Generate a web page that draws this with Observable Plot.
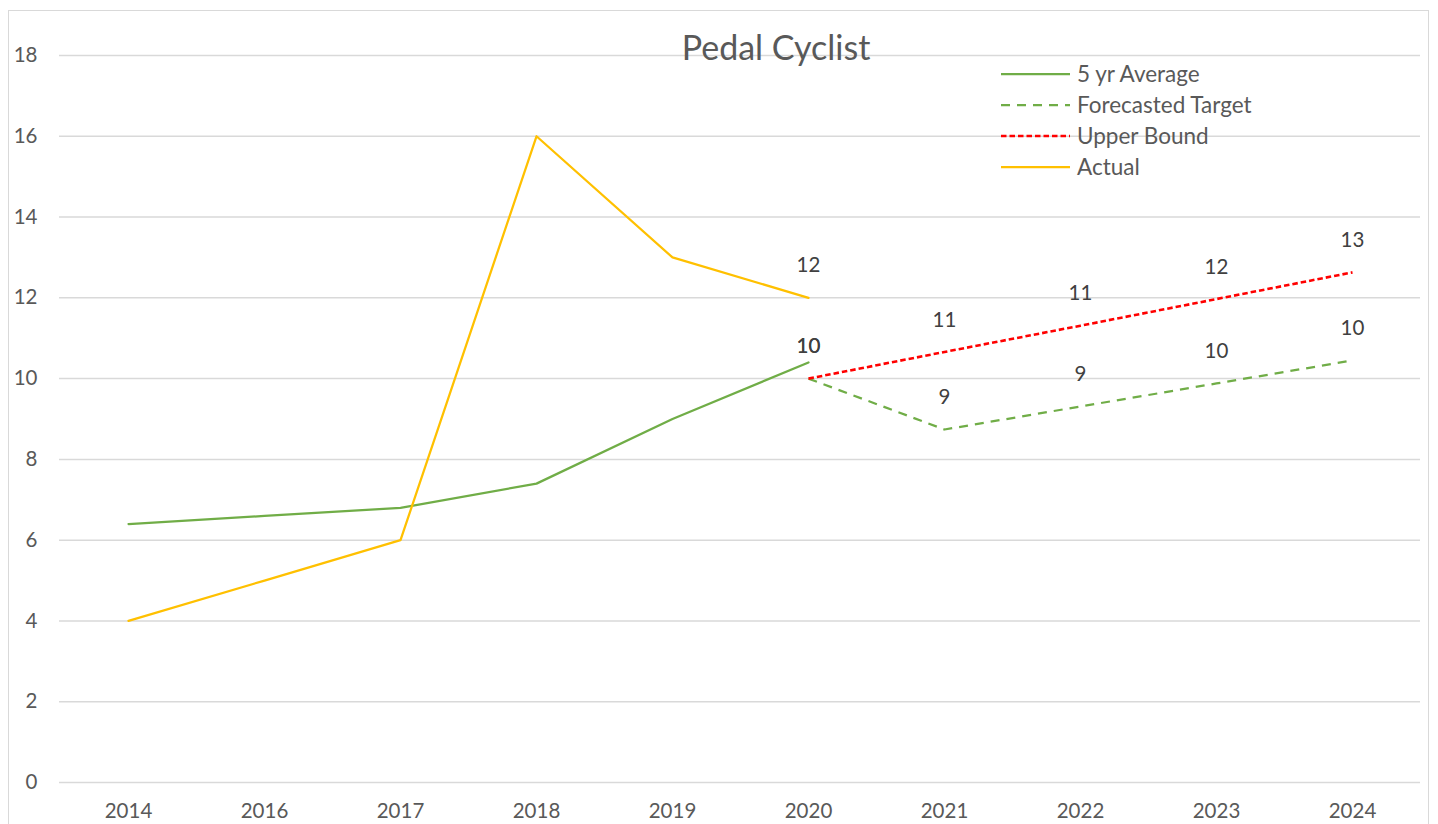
<!DOCTYPE html>
<html>
<head>
<meta charset="utf-8">
<script src="https://cdn.jsdelivr.net/npm/d3@7"></script>
<script src="https://cdn.jsdelivr.net/npm/@observablehq/plot@0.6"></script>
<style>
  html, body { margin: 0; padding: 0; background: #fff; overflow: hidden; }
  #wrap { position: relative; width: 1438px; height: 824px; font-family: Lato, "Open Sans", sans-serif; }
  #frame { position: absolute; left: 8px; top: 10px; width: 1421px; height: 830px; border: 1px solid #d9d9d9; box-sizing: border-box; pointer-events: none; }
  #title { position: absolute; left: 526px; width: 500px; top: 26px; text-align: center; font-size: 34px; color: #595959; }
  #legend { position: absolute; left: 1001px; top: 58px; font-size: 22.5px; color: #595959; }
  .item { display: flex; align-items: center; height: 31px; }
  .item svg { margin-right: 7px; }
</style>
</head>
<body>
<div id="wrap">
  <div id="chart"></div>
  <div id="frame"></div>
  <div id="title">Pedal Cyclist</div>
  <div id="legend"></div>
</div>
<script>
const years = ["2014","2016","2017","2018","2019","2020","2021","2022","2023","2024"];
const avgYears = ["2014","2016","2017","2018","2019","2020"];
const avgValues = [6.4, 6.6, 6.8, 7.4, 9.0, 10.4];
const actualValues = [4, 5, 6, 16, 13, 12];
const forecastYears = ["2020","2021","2022","2023","2024"];
const targetValues = [10, 8.74, 9.31, 9.88, 10.45];
const upperValues = [10, 10.66, 11.31, 11.97, 12.63];
const yTicks = [0, 2, 4, 6, 8, 10, 12, 14, 16, 18];

const series = [
  {name: "5 yr Average", color: "#70AD47", dash: null, width: 2.25},
  {name: "Forecasted Target", color: "#70AD47", dash: "9,7", width: 2.25},
  {name: "Upper Bound", color: "#FF0000", dash: "5.5,3", width: 2.6},
  {name: "Actual", color: "#FFC000", dash: null, width: 2.25}
];

const avg = avgYears.map((x, i) => ({x, y: avgValues[i]}));
const actual = avgYears.map((x, i) => ({x, y: actualValues[i]}));
const target = forecastYears.map((x, i) => ({x, y: targetValues[i]}));
const upper = forecastYears.map((x, i) => ({x, y: upperValues[i]}));
const actualLabels = actual.filter(d => d.x === "2020");

const font = "Lato, 'Open Sans', sans-serif";
const labelSize = 20.5;
const plot = Plot.plot({
  width: 1438,
  height: 824,
  marginLeft: 59,
  marginRight: 18,
  marginTop: 55,
  marginBottom: 42,
  style: {fontFamily: font, background: "transparent"},
  x: {type: "point", domain: years, padding: 0.5},
  y: {domain: [0, 18]},
  marks: [
    Plot.ruleY(yTicks, {stroke: "#d9d9d9", strokeWidth: 1.5}),
    Plot.axisX({tickSize: 0, tickPadding: 21, fontSize: 20.5, color: "#595959", label: null}),
    Plot.axisY({ticks: yTicks, tickSize: 0, tickPadding: 22, fontSize: 20.5, color: "#595959", label: null, tickFormat: d => String(d)}),
    Plot.line(avg, {x: "x", y: "y", stroke: series[0].color, strokeWidth: series[0].width}),
    Plot.line(actual, {x: "x", y: "y", stroke: series[3].color, strokeWidth: series[3].width}),
    Plot.line(target, {x: "x", y: "y", stroke: series[1].color, strokeWidth: series[1].width, strokeDasharray: series[1].dash, strokeLinecap: "butt"}),
    Plot.line(upper, {x: "x", y: "y", stroke: series[2].color, strokeWidth: series[2].width, strokeDasharray: series[2].dash, strokeLinecap: "butt"}),
    Plot.text(actualLabels, {x: "x", y: "y", text: d => Math.round(d.y), dy: -32, fontSize: labelSize, fill: "#404040"}),
    Plot.text(target, {x: "x", y: "y", text: d => Math.round(d.y), dy: -32, fontSize: labelSize, fill: "#404040"}),
    Plot.text(upper, {x: "x", y: "y", text: d => Math.round(d.y), dy: -32, fontSize: labelSize, fill: "#404040"})
  ]
});
document.getElementById("chart").appendChild(plot);

const legend = d3.select("#legend");
for (const s of series) {
  const item = legend.append("div").attr("class", "item");
  const svg = item.append("svg").attr("width", 69).attr("height", 6);
  svg.append("line").attr("x1", 0).attr("x2", 69).attr("y1", 3).attr("y2", 3)
    .attr("stroke", s.color).attr("stroke-width", s.width)
    .attr("stroke-dasharray", s.dash);
  item.append("span").text(s.name);
}
</script>
</body>
</html>
